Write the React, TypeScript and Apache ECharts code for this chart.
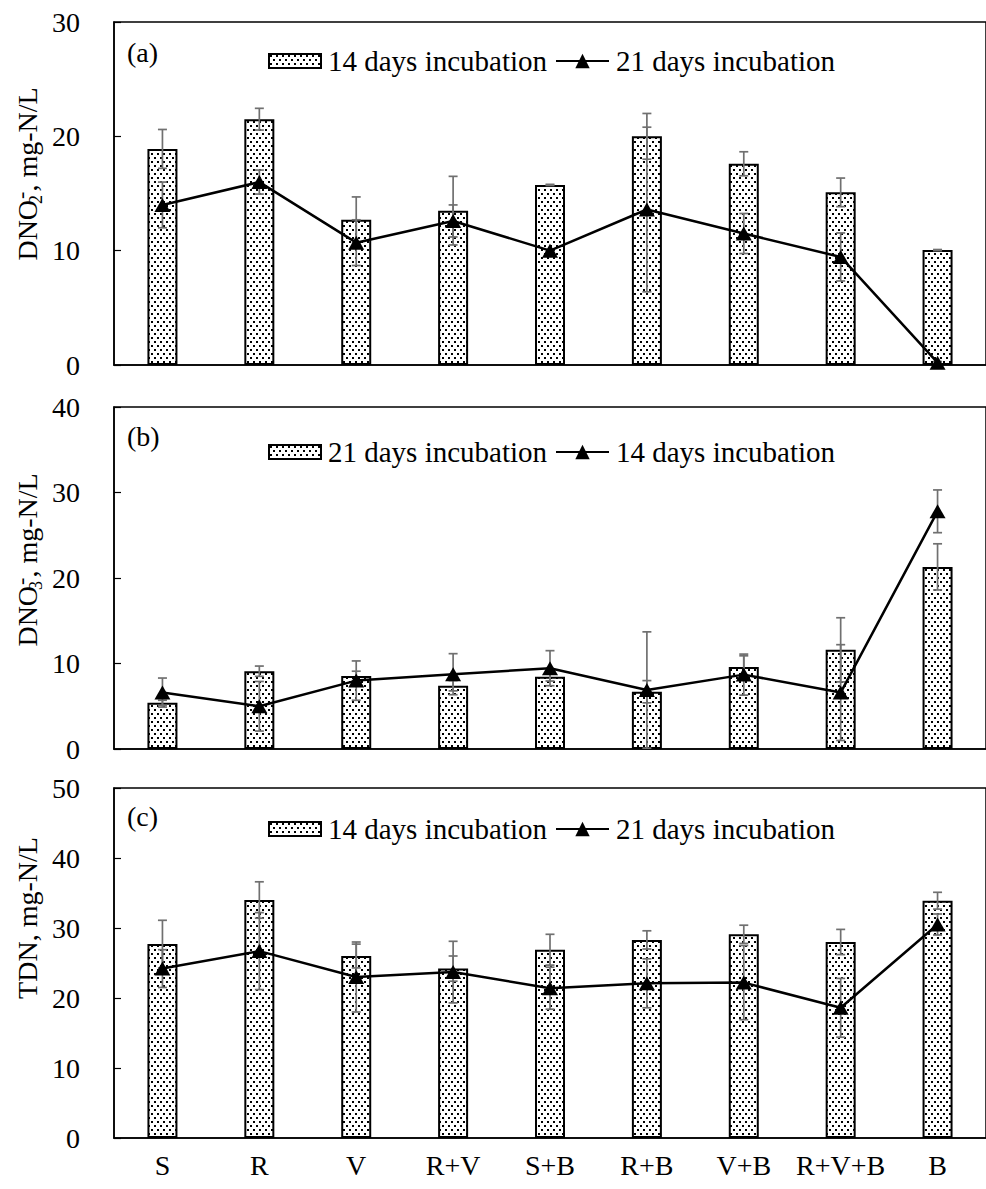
import React, { useEffect, useRef } from "react";
import * as echarts from "echarts";

const FONT = "Liberation Serif, Times New Roman, serif";

const categories = ["S", "R", "V", "R+V", "S+B", "R+B", "V+B", "R+V+B", "B"];

// Panel (a) DNO2-
const aBar14 = [18.9, 21.5, 12.7, 13.5, 15.75, 20.0, 17.6, 15.1, 10.05];
const aBar14Err = [1.7, 0.95, 2.0, 3.0, 0.05, 2.0, 1.05, 1.25, 0.05];
const aLine21 = [14.0, 16.0, 10.7, 12.6, 10.0, 13.6, 11.5, 9.45, 0.2];
const aLine21Err = [2.0, 1.05, 2.0, 1.4, 0.1, 7.2, 1.75, 2.1, 0.1];

// Panel (b) DNO3-
const bBar21 = [5.4, 9.1, 8.55, 7.4, 8.45, 6.7, 9.6, 11.6, 21.3];
const bBar21Err = [0.3, 0.6, 0.55, 0.6, 0.5, 1.3, 1.3, 3.75, 2.7];
const bLine14 = [6.6, 5.0, 8.0, 8.75, 9.45, 6.9, 8.7, 6.6, 27.8];
const bLine14Err = [1.7, 2.9, 2.3, 2.4, 2.05, 6.8, 2.4, 5.6, 2.5];

// Panel (c) TDN
const cBar14 = [27.7, 34.0, 26.0, 24.2, 26.9, 28.3, 29.1, 28.0, 33.9];
const cBar14Err = [3.4, 2.6, 1.7, 1.8, 2.2, 1.3, 1.3, 1.8, 1.2];
const cLine21 = [24.2, 26.7, 23.0, 23.7, 21.4, 22.1, 22.2, 18.6, 30.5];
const cLine21Err = [2.7, 5.5, 5.0, 4.4, 3.0, 3.5, 5.3, 4.2, 1.5];

const yMax = [30, 40, 50];
const legendText: Record<string, string> = {
  a14: "14 days incubation",
  a21: "21 days incubation",
  b21: "21 days incubation",
  b14: "14 days incubation",
  c14: "14 days incubation",
  c21: "21 days incubation",
};

const GRIDS = [
  { top: 22, height: 343 },
  { top: 407, height: 342 },
  { top: 788, height: 350 },
];

function makePattern() {
  const c = document.createElement("canvas");
  c.width = 6;
  c.height = 8;
  const ctx = c.getContext("2d")!;
  ctx.fillStyle = "#fff";
  ctx.fillRect(0, 0, 6, 8);
  ctx.fillStyle = "#000";
  ctx.fillRect(1, 1, 2, 2);
  ctx.fillRect(4, 5, 2, 2);
  return c;
}

function errData(vals: number[], errs: number[]) {
  return vals.map((v, i) => [i, v - errs[i], v + errs[i]]);
}

const errRender = (params: any, api: any) => {
  const lo = api.coord([api.value(0), api.value(1)]);
  const hi = api.coord([api.value(0), api.value(2)]);
  const x = lo[0];
  const hw = 4.5;
  const style = { stroke: "#707070", lineWidth: 1.7 };
  return {
    type: "group",
    children: [
      { type: "line", shape: { x1: x, y1: hi[1], x2: x, y2: lo[1] }, style },
      { type: "line", shape: { x1: x - hw, y1: hi[1], x2: x + hw, y2: hi[1] }, style },
      { type: "line", shape: { x1: x - hw, y1: lo[1], x2: x + hw, y2: lo[1] }, style },
    ],
  };
};

export default function App() {
  const ref = useRef<HTMLDivElement>(null);
  useEffect(() => {
    if (!ref.current) return;
    const chart = echarts.init(ref.current, null, { renderer: "svg" });
    const pattern = makePattern();
    const fillPattern: any = { image: pattern, repeat: "repeat" };

    const panels = [
      { bar: "a14", line: "a21", barV: aBar14, barE: aBar14Err, lineV: aLine21, lineE: aLine21Err },
      { bar: "b21", line: "b14", barV: bBar21, barE: bBar21Err, lineV: bLine14, lineE: bLine14Err },
      { bar: "c14", line: "c21", barV: cBar14, barE: cBar14Err, lineV: cLine21, lineE: cLine21Err },
    ];

    const grid = GRIDS.map((g) => ({
      left: 114,
      right: -6,
      top: g.top,
      height: g.height,
      show: true,
      borderColor: "#000",
      borderWidth: 1.5,
      containLabel: false,
    }));

    const xAxis = GRIDS.map((g, i) => ({
      type: "category",
      gridIndex: i,
      data: categories,
      axisLine: { show: true, lineStyle: { color: "#000", width: 1.5 } },
      axisTick: { show: i === 2, inside: true, length: 5, alignWithLabel: true, lineStyle: { color: "#000" } },
      axisLabel: { show: i === 2, interval: 0, fontSize: 28, fontFamily: FONT, color: "#000", margin: 13 },
    }));

    const yAxis = GRIDS.map((g, i) => ({
      type: "value",
      gridIndex: i,
      min: 0,
      max: yMax[i],
      interval: 10,
      axisLine: { show: true, lineStyle: { color: "#000", width: 1.5 } },
      axisTick: { show: true, inside: true, length: 7, lineStyle: { color: "#000", width: 1.2 } },
      splitLine: { show: false },
      axisLabel: { fontSize: 28, fontFamily: FONT, color: "#000", margin: 34 },
    }));

    const series: any[] = [];
    panels.forEach((p, i) => {
      series.push({
        name: p.bar,
        type: "bar",
        xAxisIndex: i,
        yAxisIndex: i,
        data: p.barV,
        barWidth: 30,
        itemStyle: { color: fillPattern, borderColor: "#000", borderWidth: 2 },
        z: 2,
      });
      series.push({
        name: p.bar + "err",
        type: "custom",
        xAxisIndex: i,
        yAxisIndex: i,
        data: errData(p.barV, p.barE),
        encode: { x: 0, y: [1, 2] },
        renderItem: errRender,
        z: 3,
      });
      series.push({
        name: p.line + "err",
        type: "custom",
        xAxisIndex: i,
        yAxisIndex: i,
        data: errData(p.lineV, p.lineE),
        encode: { x: 0, y: [1, 2] },
        renderItem: errRender,
        z: 3,
      });
      series.push({
        name: p.line,
        type: "line",
        xAxisIndex: i,
        yAxisIndex: i,
        data: p.lineV,
        symbol: "triangle",
        symbolSize: [16, 14],
        clip: false,
        itemStyle: { color: "#000" },
        lineStyle: { color: "#000", width: 2.5 },
        z: 5,
      });
    });

    const legendCenters = [61, 452, 829];
    const legend: any[] = [];
    panels.forEach((p, i) => {
      legend.push({
        data: [{ name: p.bar, icon: "rect" }],
        left: 268,
        top: legendCenters[i] - 15,
        padding: 0,
        itemWidth: 52,
        itemHeight: 14,
        selectedMode: false,
        formatter: (n: string) => legendText[n],
        textStyle: { fontSize: 29, fontFamily: FONT, color: "#000", lineHeight: 30, padding: [0, 0, 0, 2] },
      });
      legend.push({
        data: [{ name: p.line }],
        left: 555,
        top: legendCenters[i] - 15,
        padding: 0,
        itemWidth: 53,
        itemHeight: 18,
        selectedMode: false,
        formatter: (n: string) => legendText[n],
        textStyle: { fontSize: 29, fontFamily: FONT, color: "#000", lineHeight: 30, padding: [0, 0, 0, 2] },
      });
    });

    const richName = {
      m: { fontSize: 28, fontFamily: FONT, color: "#000", lineHeight: 36 },
      sub: { fontSize: 18, fontFamily: FONT, color: "#000", verticalAlign: "bottom", width: 1, align: "left" },
      sup: { fontSize: 22, fontFamily: FONT, color: "#000", verticalAlign: "top", align: "left" },
    };
    const nameText = (x: number, y: number, text: string) => ({
      type: "text",
      x,
      y,
      rotation: Math.PI / 2,
      style: { text, align: "center", verticalAlign: "middle", rich: richName, fill: "#000" },
    });
    const panelLabel = (y: number, text: string) => ({
      type: "text",
      x: 127,
      y,
      style: { text, fontSize: 28, fontFamily: FONT, fill: "#000", verticalAlign: "middle", align: "left" },
    });

    const graphic = [
      nameText(27, 174, "{m|DNO}{sub|2}{sup|-}{m|, mg-N/L}"),
      nameText(27, 560, "{m|DNO}{sub|3}{sup|-}{m|, mg-N/L}"),
      nameText(27, 918, "{m|TDN, mg-N/L}"),
      panelLabel(52, "(a)"),
      panelLabel(436, "(b)"),
      panelLabel(816, "(c)"),
    ];

    chart.setOption({
      animation: false,
      backgroundColor: "#fff",
      textStyle: { fontFamily: FONT },
      grid,
      xAxis,
      yAxis,
      legend,
      series,
      graphic,
    });
    return () => chart.dispose();
  }, []);
  return (
    <div
      ref={ref}
      style={{ position: "absolute", left: 0, top: 0, width: 986, height: 1189, background: "#fff" }}
    />
  );
}
